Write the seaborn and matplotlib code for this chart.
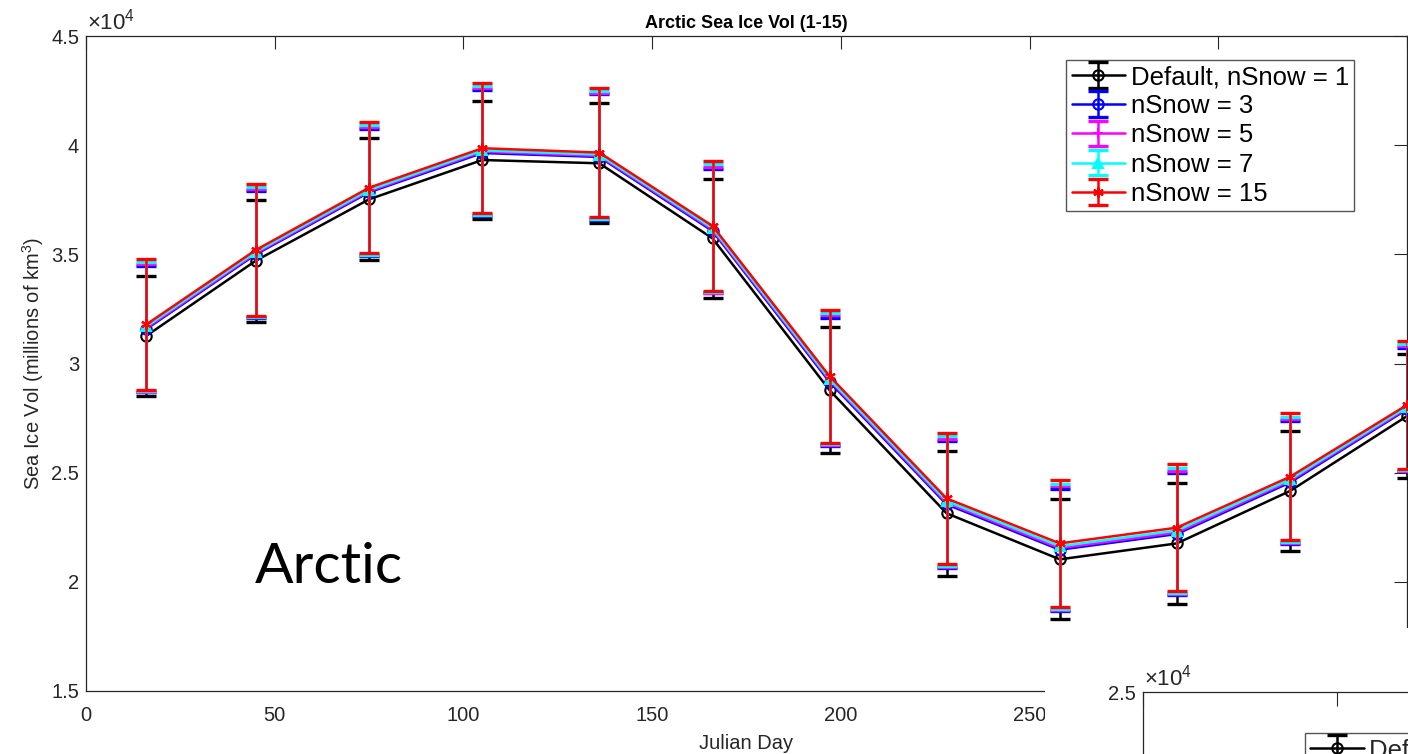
import numpy as np
import pandas as pd
import matplotlib
matplotlib.use("Agg")
import matplotlib.pyplot as plt
import seaborn as sns
from matplotlib.container import ErrorbarContainer

# ---------------- data ----------------
julian_day = [16, 45, 75, 105, 136, 166, 197, 228, 258, 289, 319, 350]
series_labels = ["Default, nSnow = 1", "nSnow = 3", "nSnow = 5", "nSnow = 7", "nSnow = 15"]
series_colors = ["#000000", "#0000FF", "#FF00FF", "#00FFFF", "#FF0000"]

vol_n1 = [31270, 34710, 37520, 39320, 39170, 35730, 28780, 23140, 21030, 21760, 24160, 27590]
vol_n3 = [31580, 35000, 37840, 39640, 39460, 36070, 29160, 23550, 21470, 22190, 24550, 27900]
vol_n5 = [31630, 35050, 37890, 39700, 39510, 36130, 29230, 23620, 21540, 22260, 24620, 27950]
vol_n7 = [31700, 35110, 37950, 39760, 39570, 36200, 29300, 23700, 21630, 22350, 24690, 28010]
vol_n15 = [31790, 35200, 38050, 39860, 39660, 36300, 29420, 23820, 21760, 22480, 24810, 28100]

err_n1 = [2760, 2790, 2800, 2720, 2740, 2730, 2880, 2850, 2750, 2770, 2750, 2850]
err_n3 = [2900, 2910, 2910, 2880, 2870, 2860, 2940, 2910, 2800, 2800, 2810, 2830]
err_n5 = [2930, 2940, 2940, 2910, 2900, 2890, 2970, 2940, 2830, 2830, 2840, 2860]
err_n7 = [2960, 2970, 2970, 2940, 2930, 2920, 3000, 2970, 2860, 2860, 2870, 2890]
err_n15 = [3000, 3010, 3010, 2980, 2970, 2960, 3040, 3010, 2900, 2900, 2910, 2930]

x_ticks = [0, 50, 100, 150, 200, 250, 300, 350]
y_ticks = [15000, 20000, 25000, 30000, 35000, 40000, 45000]
y_tick_labels = ["1.5", "2", "2.5", "3", "3.5", "4", "4.5"]

title_text = "Arctic Sea Ice Vol (1-15)"
x_label = "Julian Day"
y_label = "Sea Ice Vol (millions of km$^3$)"
region_text = "Arctic"

# ---------------- style ----------------
sns.set_theme(style="white")
plt.rcParams["font.family"] = ["Liberation Sans", "DejaVu Sans"]
plt.rcParams["mathtext.fontset"] = "custom"
plt.rcParams["mathtext.rm"] = "Liberation Sans"
plt.rcParams["mathtext.default"] = "regular"
GRAY = "#262626"

W, H = 1408, 754
fig = plt.figure(figsize=(W / 100, H / 100), dpi=100)
fig.patch.set_facecolor("white")

def px_axes(left, top, right, bottom):
    return [left / W, (H - bottom) / H, (right - left) / W, (bottom - top) / H]

ax = fig.add_axes(px_axes(86, 36, 1407, 691))

values = [vol_n1, vol_n3, vol_n5, vol_n7, vol_n15]
errors = [err_n1, err_n3, err_n5, err_n7, err_n15]
markers = ["o", "o", "+", "^", (6, 2, 0)]
mfcs = ["none", "none", "none", "#00FFFF", "none"]

handles = []
for i, (lab, col, vals, errs, mk, mfc) in enumerate(zip(series_labels, series_colors, values, errors, markers, mfcs)):
    z = 3 + 2 * i
    df = pd.DataFrame({"day": julian_day, "vol": vals})
    sns.lineplot(data=df, x="day", y="vol", ax=ax, color=col, lw=1.8,
                 marker=mk, markersize=7.5, markerfacecolor=mfc, markeredgecolor=col,
                 markeredgewidth=1.5, zorder=z + 1, legend=False)
    ln = ax.lines[-1]
    eb = ax.errorbar(julian_day, vals, yerr=errs, fmt="none", ecolor=col,
                     elinewidth=1.8, capsize=7, capthick=2.4, zorder=z)
    _, caps, bars = eb.lines
    handles.append(ErrorbarContainer((ln, caps, bars), has_xerr=False, has_yerr=True, label=lab))

ax.set_xlim(0, 350)
ax.set_ylim(15000, 45000)
ax.set_xticks(x_ticks)
ax.set_xticklabels([str(t) for t in x_ticks])
ax.set_yticks(y_ticks)
ax.set_yticklabels(y_tick_labels)
ax.tick_params(direction="in", length=9.5, width=0.8, color=GRAY, labelcolor=GRAY,
               labelsize=14.5, top=True, right=True, pad=5)
ax.tick_params(axis="x", pad=11)
for s in ax.spines.values():
    s.set_color(GRAY)
    s.set_linewidth(0.9)
ax.set_xlabel(x_label, fontsize=14.5, color=GRAY, labelpad=6)
ax.set_ylabel(y_label, fontsize=14.5, color=GRAY, labelpad=4)
ax.set_title(title_text, fontsize=13, fontweight="bold", color="black", pad=6)
ax.text(0.001, 1.002, r"$\times10^{4}$", transform=ax.transAxes, ha="left", va="bottom",
        fontsize=16, color=GRAY)
ax.text(0.128, 0.165, region_text, transform=ax.transAxes, ha="left", va="baseline",
        fontsize=41, color="black", family=["Lato", "DejaVu Sans"])

leg_kw = dict(fontsize=18.5, frameon=True, fancybox=False, framealpha=1,
              edgecolor="#555555", handlelength=2.1, handletextpad=0.2,
              labelspacing=0.2, borderpad=0.2, borderaxespad=0)
leg = ax.legend(handles=handles, labels=series_labels, loc="upper right",
                bbox_to_anchor=((1354 - 86) / 1321, (691 - 60) / 655), **leg_kw)
leg.get_frame().set_linewidth(1.0)
for t in leg.get_texts():
    t.set_color("black")

# ---------------- overlapping crop of a second figure ----------------
cover = fig.add_axes(px_axes(1045, 628, 1408, 754))
cover.set_facecolor("white")
cover.set_xticks([])
cover.set_yticks([])
for s in cover.spines.values():
    s.set_visible(False)

ax2 = fig.add_axes(px_axes(1143, 692, 1143 + 1358, 692 + 655))
ax2.set_facecolor("white")
ax2.set_xlim(0, 350)
ax2.set_ylim(5000, 25000)
ax2.set_xticks(x_ticks)
ax2.set_xticklabels([])
ax2.set_yticks([25000])
ax2.set_yticklabels(["2.5"])
ax2.tick_params(direction="in", length=10, width=0.8, color=GRAY, labelcolor=GRAY,
                labelsize=14.5, top=True, right=True, pad=5)
for s in ax2.spines.values():
    s.set_color(GRAY)
    s.set_linewidth(0.9)
ax2.text(0.001, 1.002, r"$\times10^{4}$", transform=ax2.transAxes, ha="left", va="bottom",
         fontsize=16, color=GRAY)
leg2 = fig.legend(handles=handles[:1], labels=series_labels[:1], loc="upper left",
                  bbox_to_anchor=(1305 / W, (H - 733) / H), **leg_kw)
leg2.get_frame().set_linewidth(1.0)

fig.savefig("out.png", dpi=100)
